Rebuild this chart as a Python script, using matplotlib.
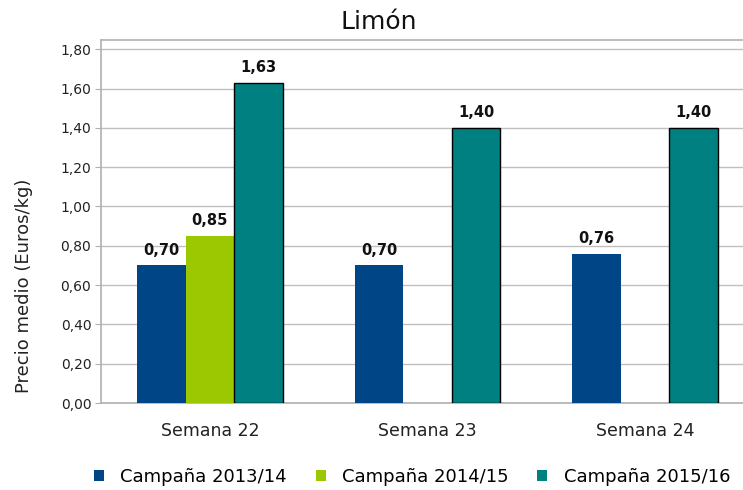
import matplotlib
matplotlib.use("Agg")
import matplotlib.pyplot as plt
from matplotlib.patches import Patch
import numpy as np

categories = ["Semana 22", "Semana 23", "Semana 24"]
series_names = ["Campaña 2013/14", "Campaña 2014/15", "Campaña 2015/16"]
v2013 = [0.70, 0.70, 0.76]
v2014 = [0.85, None, None]
v2015 = [1.63, 1.40, 1.40]
yticks = [0.0, 0.2, 0.4, 0.6, 0.8, 1.0, 1.2, 1.4, 1.6, 1.8]

colors = ["#004586", "#9BC800", "#008080"]
edges = ["none", "none", "black"]

plt.rcParams['font.family'] = ['DejaVu Sans']
fig = plt.figure(figsize=(7.43, 4.90), dpi=100)
ax = fig.add_axes([101/743, 1-403/490, 653/743, 363/490])

x = np.arange(len(categories))
w = 0.223
offs = [-w, 0, w]
for vals, off, c, ec in zip([v2013, v2014, v2015], offs, colors, edges):
    for xi, v in zip(x, vals):
        if v is None:
            continue
        ax.bar(xi + off, v, width=w, color=c, edgecolor=ec,
               linewidth=1.0 if ec != "none" else 0, zorder=3)
        ax.text(xi + off, v + 0.04, f"{v:.2f}".replace(".", ","),
                ha="center", va="bottom", fontsize=10.5, fontweight="bold",
                color="#111111", zorder=4)

ax.set_xlim(-0.5, 2.5)
ax.set_ylim(0, 1.847)
ax.set_yticks(yticks)
ax.set_yticklabels([f"{t:.2f}".replace(".", ",") for t in yticks], fontsize=10, color="#222222")
ax.set_xticks(x)
ax.set_xticklabels(categories, fontsize=12.5, color="#222222")
ax.tick_params(axis="x", length=0, pad=14)
ax.tick_params(axis="y", length=4, color="#b0b0b0", pad=3)
ax.grid(axis="y", color="#c0c0c0", linewidth=1.0, zorder=0)
for s in ["left", "bottom", "top"]:
    ax.spines[s].set_color("#b0b0b0")
    ax.spines[s].set_linewidth(1.2)
ax.spines["right"].set_visible(False)
ax.set_ylabel("Precio medio (Euros/kg)", fontsize=13, color="#222222")
ax.yaxis.set_label_coords((33-101)/653, (403-286)/363)

fig.text(379/743, 1-22/490, "Limón", ha="center", va="center", fontsize=18, color="#111111")

handles = [Patch(facecolor=c, edgecolor="none") for c in colors]
fig.legend(handles, series_names, loc="center", bbox_to_anchor=(412/743, 1-477/490),
           ncol=3, frameon=False, fontsize=13, handlelength=0.55, handleheight=0.55,
           columnspacing=1.6, handletextpad=0.9)

fig.savefig("out.png", dpi=100)
